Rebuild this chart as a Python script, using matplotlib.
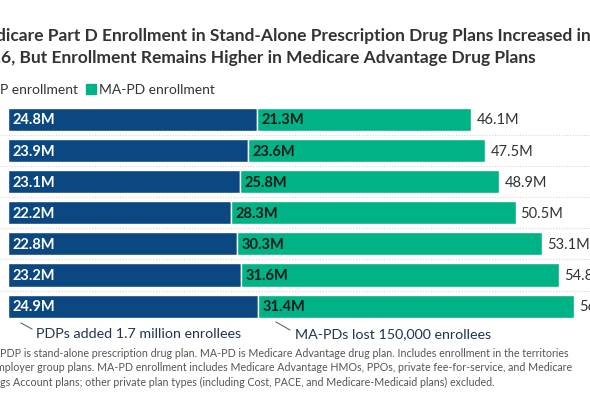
import matplotlib.pyplot as plt
import matplotlib.lines as mlines
import matplotlib.patches as mpatches

plt.rcParams['font.family'] = ['Lato', 'DejaVu Sans']

years = ["2020", "2021", "2022", "2023", "2024", "2025", "2026"]
pdp = [24.8, 23.9, 23.1, 22.2, 22.8, 23.2, 24.9]
mapd = [21.3, 23.6, 25.8, 28.3, 30.3, 31.6, 31.4]
totals = [46.1, 47.5, 48.9, 50.5, 53.1, 54.8, 56.3]

navy = "#0b4882"
green = "#00b386"
W, H = 590, 410


def fx(px):
    return px / W


def fy(py):
    return 1 - py / H


fig = plt.figure(figsize=(5.9, 4.1), dpi=100)

# axes spans the whole width; x=0 sits 8px in
ppm = 10.05
top, bot = 104.95, 322.65
ax = fig.add_axes([0, fy(bot), 1, (bot - top) / H])
ax.set_xlim(-8 / ppm, (W - 8) / ppm)
ax.set_ylim(len(years) - 0.5, -0.5)
ax.axis("off")

ys = list(range(len(years)))
ax.barh(ys, pdp, height=0.74, color=navy, edgecolor="white", linewidth=1)
ax.barh(ys, mapd, left=pdp, height=0.74, color=green, edgecolor="white", linewidth=1)

for i in range(len(years) - 1):
    ax.axhline(i + 0.5, color="#d6d6d6", lw=0.8, ls=(0, (1, 1.5)))

for i in ys:
    ax.text(0.45, i, f"{pdp[i]}M", color="white", fontsize=10.5, fontweight="bold",
            va="center", ha="left")
    ax.text(pdp[i] + 0.45, i, f"{mapd[i]}M", color="#1a1a1a", fontsize=10.5,
            fontweight="bold", va="center", ha="left")
    ax.text(totals[i] + 0.5, i, f"{totals[i]}M", color="#333333", fontsize=10.5,
            va="center", ha="left")

# title (left side of the original is cropped)
tcol = "#333333"
fig.text(fx(-4), fy(36), "Me", ha="right", va="center", fontsize=12.5,
         fontweight="bold", color=tcol)
fig.text(fx(-4), fy(36), "dicare Part D Enrollment in Stand-Alone Prescription Drug Plans Increased in",
         ha="left", va="center", fontsize=12.5, fontweight="bold", color=tcol)
fig.text(fx(1), fy(58), "202", ha="right", va="center", fontsize=12.5,
         fontweight="bold", color=tcol)
fig.text(fx(1), fy(58), "6, But Enrollment Remains Higher in Medicare Advantage Drug Plans",
         ha="left", va="center", fontsize=12.5, fontweight="bold", color=tcol)

# legend
fig.patches.append(mpatches.Rectangle((fx(-30), fy(95)), 10 / W, 10 / H,
                                      transform=fig.transFigure, color=navy))
fig.text(fx(0), fy(90), "PD", ha="right", va="center", fontsize=10, color="#333333")
fig.text(fx(0), fy(90), "P enrollment", ha="left", va="center", fontsize=10, color="#333333")
fig.patches.append(mpatches.Rectangle((fx(86), fy(95)), 10 / W, 10 / H,
                                      transform=fig.transFigure, color=green))
fig.text(fx(99), fy(90), "MA-PD enrollment", ha="left", va="center", fontsize=10,
         color="#333333")

# annotations
acol = "#1f3550"
for (x0, y0, x1, y1, tx, label) in [
    (21, 324, 32, 330, 36, "PDPs added 1.7 million enrollees"),
    (276, 323, 290, 331, 295, "MA-PDs lost 150,000 enrollees"),
]:
    fig.lines.append(mlines.Line2D([fx(x0), fx(x1)], [fy(y0), fy(y1)],
                                   transform=fig.transFigure, color="#666666", lw=0.8))
    fig.text(fx(tx), fy(334), label, ha="left", va="center", fontsize=10.3, color=acol)

# note (cropped on the left)
ncol = "#555555"
notes = [
    ("Note: ", "PDP is stand-alone prescription drug plan. MA-PD is Medicare Advantage drug plan. Includes enrollment in the territories", 0),
    ("and e", "mployer group plans. MA-PD enrollment includes Medicare Advantage HMOs, PPOs, private fee-for-service, and Medicare", -4),
    ("Medical Savin", "gs Account plans; other private plan types (including Cost, PACE, and Medicare-Medicaid plans) excluded.", 0),
]
for k, (pre, rest, off) in enumerate(notes):
    yy = fy(354 + 14 * k)
    fig.text(fx(off), yy, pre, ha="right", va="center", fontsize=7.7, color=ncol)
    fig.text(fx(off), yy, rest, ha="left", va="center", fontsize=7.7, color=ncol)

fig.savefig("out.png", dpi=100)
